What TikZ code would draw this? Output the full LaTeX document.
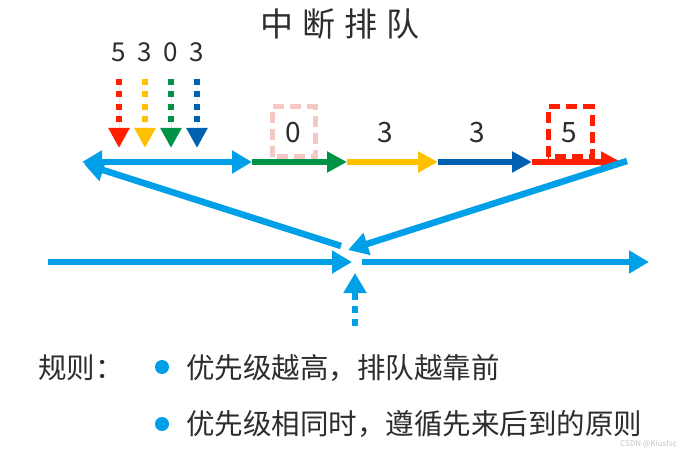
\documentclass[tikz,border=0pt]{standalone}
\usepackage{fontspec}
\setmainfont{Noto Sans CJK SC}
\usetikzlibrary{arrows.meta}
\definecolor{qblue}{RGB}{0,160,233}
\definecolor{qred}{RGB}{255,30,0}
\definecolor{qyellow}{RGB}{255,192,0}
\definecolor{qgreen}{RGB}{0,146,69}
\definecolor{qdblue}{RGB}{0,96,176}
\definecolor{qpink}{RGB}{246,200,196}
\definecolor{qtext}{RGB}{45,45,45}
\tikzset{
  bluearrow/.style={draw=qblue,line width=6.5pt,-{Triangle[length=20pt,width=22pt]}},
  segarrow/.style={line width=5.5pt,-{Triangle[length=20pt,width=20pt]}},
  droparrow/.style={line width=6pt,dash pattern=on 6pt off 6.5pt,-{Triangle[length=20pt,width=20pt]}},
  digit/.style={text=qtext,font=\fontsize{26}{26}\selectfont,inner sep=0pt},
  qdigit/.style={text=qtext,font=\fontsize{28}{28}\selectfont,inner sep=0pt},
  rule/.style={text=qtext,font=\fontsize{28.5}{28.5}\selectfont,inner sep=0pt,anchor=west},
  bullet/.style={circle,fill=qblue,minimum size=14pt,inner sep=0pt},
  slotbox/.style={line width=5pt,dash pattern=on 11pt off 6pt}
}
\begin{document}
\begin{tikzpicture}[x=1pt,y=-1pt]
\useasboundingbox (0,0) rectangle (680,449);
\fill[white] (0,0) rectangle (680,449);
% title
\node[text=qtext,font=\fontsize{33}{33}\selectfont,inner sep=0pt] (title) at (340,24) {中\hspace{9pt}断\hspace{9pt}排\hspace{9pt}队};
% incoming priorities
\node[digit] (d1) at (119,52) {5};
\node[digit] (d2) at (145,52) {3};
\node[digit] (d3) at (171,52) {0};
\node[digit] (d4) at (197,52) {3};
\coordinate (s1) at (119,79); \coordinate (e1) at (119,148);
\coordinate (s2) at (145,79); \coordinate (e2) at (145,148);
\coordinate (s3) at (171,79); \coordinate (e3) at (171,148);
\coordinate (s4) at (197,79); \coordinate (e4) at (197,148);
\draw[droparrow,draw=qred,fill=qred] (s1) -- (e1);
\draw[droparrow,draw=qyellow,fill=qyellow] (s2) -- (e2);
\draw[droparrow,draw=qgreen,fill=qgreen] (s3) -- (e3);
\draw[droparrow,draw=qdblue,fill=qdblue] (s4) -- (e4);
% queue
\coordinate (qL) at (82,162);
\coordinate (q0) at (252,162);
\coordinate (q1) at (347,162);
\coordinate (q2) at (438,162);
\coordinate (q3) at (532,162);
\coordinate (q4) at (621,162);
\draw[slotbox,draw=qpink] (272,157) rectangle (315,107);
\draw[slotbox,draw=qred] (548,157) rectangle (592,107);
\node[qdigit] (n0) at (293,133) {0};
\node[qdigit] (n1) at (385,133) {3};
\node[qdigit] (n2) at (477,133) {3};
\node[qdigit] (n3) at (569,133) {5};
\draw[bluearrow,{Triangle[length=20pt,width=22pt]}-{Triangle[length=20pt,width=22pt]}] (qL) -- (q0);
\draw[segarrow,draw=qgreen,fill=qgreen] (q0) -- (q1);
\draw[segarrow,draw=qyellow,fill=qyellow] (q1) -- (q2);
\draw[segarrow,draw=qdblue,fill=qdblue] (q2) -- (q3);
\draw[segarrow,draw=qred,fill=qred] (q3) -- (q4);
% interrupt flow
\coordinate (dL) at (341,246);
\coordinate (dLt) at (84,164);
\coordinate (dR) at (627,161);
\coordinate (dRt) at (348,250);
\coordinate (mL) at (48,262);
\coordinate (mLt) at (352,262);
\coordinate (mR) at (362,262);
\coordinate (mRt) at (649,262);
\coordinate (vB) at (355,326);
\coordinate (vT) at (355,273);
\draw[bluearrow] (dR) -- (dRt);
\draw[bluearrow] (dL) -- (dLt);
\draw[bluearrow] (mL) -- (mLt);
\draw[bluearrow] (mR) -- (mRt);
\draw[bluearrow,dash pattern=on 7pt off 6pt] (vB) -- (vT);
% rules
\node[rule] (rl) at (38,368) {规则：};
\node[bullet] (b1) at (162,367) {};
\node[rule] (r1) at (186,368) {优先级越高，排队越靠前};
\node[bullet] (b2) at (162,424) {};
\node[rule] (r2) at (186,424) {优先级相同时，遵循先来后到的原则};
\node[text=gray!45,font=\fontsize{8}{8}\selectfont,inner sep=0pt,anchor=east] (wm) at (677,444) {CSDN @Kiusfsc};
\end{tikzpicture}
\end{document}
